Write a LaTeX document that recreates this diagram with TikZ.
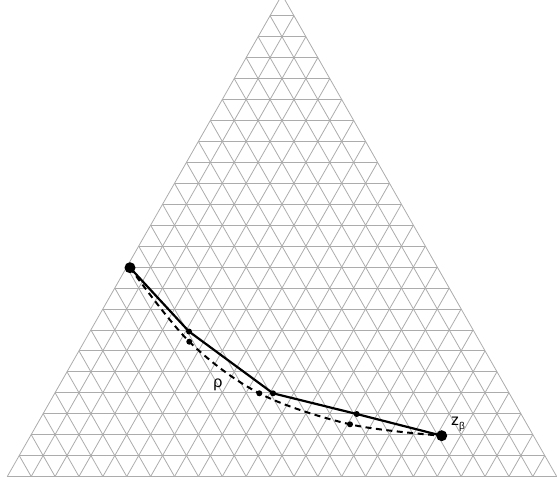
\documentclass[tikz,border=0pt]{standalone}
\usepackage{fontspec}
\setmainfont{Liberation Sans}
\usetikzlibrary{calc}
\tikzset{
  gridline/.style={gray!65, line width=0.8pt},
  bigdot/.style={circle, fill=black, inner sep=0pt, minimum size=11pt},
  smalldot/.style={circle, fill=black, inner sep=0pt, minimum size=6pt},
  pathline/.style={line width=2.2pt},
  dashline/.style={line width=2pt, dash pattern=on 6pt off 4.5pt},
  lbl/.style={font=\fontsize{16}{19}\selectfont, inner sep=0pt}
}
\begin{document}
\begin{tikzpicture}[x=1pt, y=-1pt]
  \useasboundingbox (0,0) rectangle (557,487);
  % Triangle corners
  \coordinate (A) at (7.3,476.5);
  \coordinate (B) at (556.7,476.5);
  \coordinate (C) at (282,-5.2);
  % Triangular grid
  \foreach \k in {0,...,23}{
    \draw[gridline] ($(A)!\k/23!(C)$) -- ($(B)!\k/23!(C)$);
    \draw[gridline] ($(A)!\k/23!(B)$) -- ($(C)!\k/23!(B)$);
    \draw[gridline] ($(A)!\k/23!(B)$) -- ($(A)!\k/23!(C)$);
  }
  % End points
  \node[bigdot] (za) at (130,267.7) {};
  \node[bigdot] (zb) at (441.7,435.7) {};
  % Solid path
  \node[smalldot] (s1) at (189,331.5) {};
  \node[smalldot] (s2) at (273,393.3) {};
  \node[smalldot] (s3) at (356.7,414) {};
  \draw[pathline] (za.center) -- (s1.center) -- (s2.center) -- (s3.center) -- (zb.center);
  % Dashed curve
  \node[smalldot] (d1) at (189.3,341.7) {};
  \node[smalldot] (d2) at (259.3,393.3) {};
  \node[smalldot] (d3) at (350,424.3) {};
  \draw[dashline] plot[smooth, tension=0.55] coordinates {(za.center) (d1.center) (d2.center) (d3.center) (zb.center)};
  % Labels
  \node[lbl] (rho) at (218,385) {ρ};
  \node[lbl, anchor=west] (zlbl) at (451,424) {z\raisebox{-4pt}{\fontsize{10}{12}\selectfont β}};
\end{tikzpicture}
\end{document}
